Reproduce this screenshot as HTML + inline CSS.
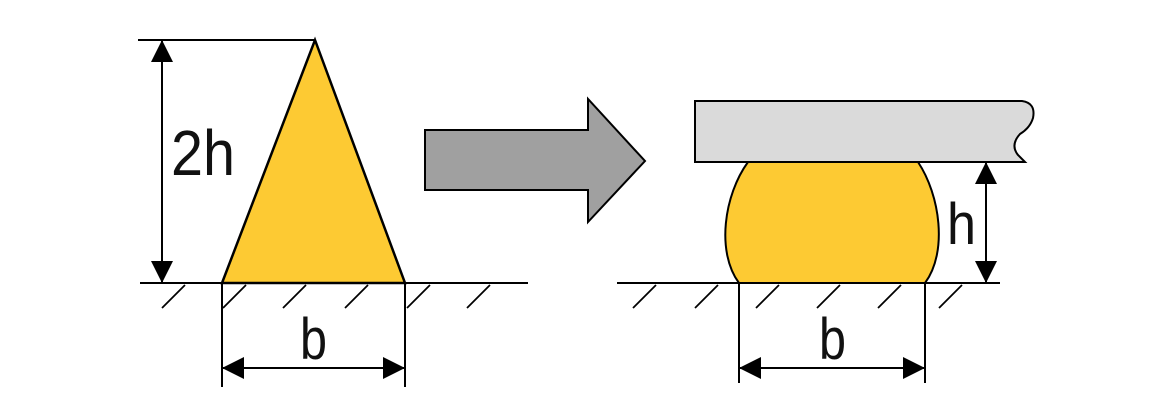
<!DOCTYPE html>
<html><head><meta charset="utf-8"><style>
html,body{margin:0;padding:0;background:#fff;}
svg{display:block;}
text{font-family:"Liberation Sans",sans-serif;fill:#111;}
</style></head><body>
<svg width="1170" height="418" viewBox="0 0 1170 418" xmlns="http://www.w3.org/2000/svg">
<g stroke="#000" stroke-width="2" fill="none">
<line x1="138" y1="40" x2="315" y2="40"/>
<polygon points="315,40 405,283 222,283" fill="#fdca33" stroke-width="2.5"/>
<line x1="140" y1="283" x2="528" y2="283"/>
<g stroke-width="1.8">
<line x1="162" y1="308" x2="185" y2="285"/>
<line x1="223" y1="308" x2="246" y2="285"/>
<line x1="283" y1="308" x2="306" y2="285"/>
<line x1="345" y1="308" x2="368" y2="285"/>
<line x1="407" y1="308" x2="430" y2="285"/>
<line x1="467" y1="308" x2="490" y2="285"/>
</g>
<line x1="222" y1="283" x2="222" y2="387"/>
<line x1="405" y1="283" x2="405" y2="387"/>
<polygon points="425,130 588,130 588,99 645,161 588,222 588,190 425,190" fill="#a0a0a0"/>
<path d="M695,101 L1022,101 Q1036,103 1033,118 Q1030,128 1020,134 Q1010,145 1018,155 L1025,162 L695,162 Z" fill="#dadada"/>
<path d="M748,162 L918,162 C940,195 948,252 925,283 L739,283 C716,252 724,195 748,162 Z" fill="#fdca33"/>
<line x1="617" y1="283" x2="1000" y2="283"/>
<g stroke-width="1.8">
<line x1="633" y1="308" x2="656" y2="285"/>
<line x1="695" y1="308" x2="718" y2="285"/>
<line x1="756" y1="308" x2="779" y2="285"/>
<line x1="817" y1="308" x2="840" y2="285"/>
<line x1="878" y1="308" x2="901" y2="285"/>
<line x1="939" y1="308" x2="962" y2="285"/>
</g>
<line x1="739" y1="283" x2="739" y2="383"/>
<line x1="925" y1="283" x2="925" y2="383"/>
</g>
<g stroke="#000" stroke-width="2" fill="none">
<line x1="162" y1="41" x2="162" y2="282"/>
<line x1="223" y1="368" x2="404" y2="368"/>
<line x1="986" y1="163" x2="986" y2="282"/>
<line x1="740" y1="368" x2="924" y2="368"/>
</g>
<g fill="#000">
<polygon points="162,40 151,62 173,62"/>
<polygon points="162,283 151,261 173,261"/>
<polygon points="222,368 244,357 244,379"/>
<polygon points="405,368 383,357 383,379"/>
<polygon points="986,162 975,184 997,184"/>
<polygon points="986,283 975,261 997,261"/>
<polygon points="739,368 761,357 761,379"/>
<polygon points="925,368 903,357 903,379"/>
</g>
<text x="171" y="175" font-size="64" textLength="64" lengthAdjust="spacingAndGlyphs">2h</text>
<text x="300" y="359" font-size="58" textLength="27" lengthAdjust="spacingAndGlyphs">b</text>
<text x="819" y="359" font-size="58" textLength="27" lengthAdjust="spacingAndGlyphs">b</text>
<text x="947" y="244" font-size="58" textLength="29" lengthAdjust="spacingAndGlyphs">h</text>
</svg>
</body></html>
